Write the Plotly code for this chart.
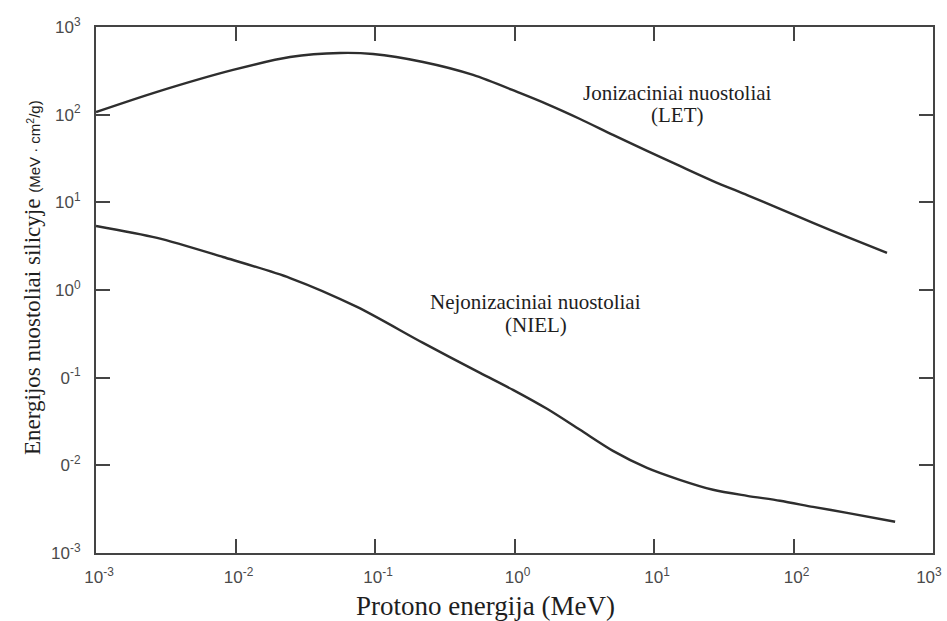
import plotly.graph_objects as go

# Proton energy (MeV) and ionizing energy loss (LET) in silicon, MeV·cm²/g
let_energy = [0.001, 0.00274, 0.0096, 0.0246, 0.0561, 0.0968, 0.221, 0.505, 1.09, 1.71,
              2.95, 5.08, 8.91, 15.3, 26.5, 46.5, 80, 138, 242, 468]
let_loss = [107, 182, 324, 455, 506, 492, 399, 284, 177, 132,
            89.3, 58.7, 38.6, 26.0, 17.5, 12.1, 8.41, 5.82, 4.03, 2.65]

# Proton energy (MeV) and non-ionizing energy loss (NIEL) in silicon
niel_energy = [0.001, 0.00274, 0.00813, 0.0246, 0.0743, 0.221, 0.566, 0.975, 1.71, 2.95,
               5.08, 8.91, 15.3, 26.5, 46.5, 80, 138, 242, 535]
niel_loss = [5.38, 3.93, 2.38, 1.37, 0.641, 0.249, 0.1135, 0.0726, 0.0441, 0.0254,
             0.01463, 0.00936, 0.00684, 0.00526, 0.00449, 0.00394, 0.00336, 0.00287, 0.00227]

decades = [1e-3, 1e-2, 1e-1, 1e0, 1e1, 1e2, 1e3]
# the last label carries trailing no-break spaces so it stays inside the page
x_tick_text = ["10<sup>-3</sup>", "10<sup>-2</sup>", "10<sup>-1</sup>", "10<sup>0</sup>",
               "10<sup>1</sup>", "10<sup>2</sup>", "10<sup>3</sup>\u00a0\u00a0\u00a0"]
y_tick_text = ["10<sup>-3</sup>", "0<sup>-2</sup>", "0<sup>-1</sup>", "10<sup>0</sup>",
               "10<sup>1</sup>", "10<sup>2</sup>", "10<sup>3</sup>"]

line_color = "#2e2e2e"
axis_color = "#444444"
text_color = "#1e1e1e"
serif = "Liberation Serif"
sans = "Liberation Sans"

fig = go.Figure()
fig.add_trace(go.Scatter(x=let_energy, y=let_loss, mode="lines",
                         line=dict(color=line_color, width=2.4, shape="spline", smoothing=0.8)))
fig.add_trace(go.Scatter(x=niel_energy, y=niel_loss, mode="lines",
                         line=dict(color=line_color, width=2.4, shape="spline", smoothing=0.8)))

axis_common = dict(
    type="log", range=[-3, 3], tickvals=decades, automargin=False,
    ticks="inside", ticklen=14, tickwidth=1.6, tickcolor=axis_color,
    showline=True, linewidth=2, linecolor=axis_color, mirror="ticks",
    showgrid=False, zeroline=False,
    tickfont=dict(family=sans, size=17, color="#4a4a4a"),
)

fig.update_xaxes(**axis_common, ticktext=x_tick_text, ticklabelstandoff=8,
                 ticklabelshift=3, ticklabeloverflow="allow")
fig.update_yaxes(**axis_common, ticktext=y_tick_text, ticklabelstandoff=10)

# Curve labels, one annotation per line
curve_labels = [
    (1.165, 2.247, "Jonizaciniai nuostoliai"),
    (1.165, 1.997, "(LET)"),
    (0.154, -0.136, "Nejonizaciniai nuostoliai"),
    (0.154, -0.398, "(NIEL)"),
]
for lx, ly, txt in curve_labels:
    fig.add_annotation(x=lx, y=ly, xref="x", yref="y", text=txt, showarrow=False,
                       xanchor="center", yanchor="middle",
                       font=dict(family=serif, size=21, color=text_color))

# Axis titles
fig.add_annotation(x=(485 - 96) / 837, y=(553 - 606) / 526, xref="paper", yref="paper",
                   xanchor="center", yanchor="middle",
                   text="Protono energija (MeV)", showarrow=False,
                   font=dict(family=serif, size=27, color=text_color))
fig.add_annotation(x=(32 - 96) / 837, y=(553 - 278) / 526, xref="paper", yref="paper",
                   xanchor="center", yanchor="middle",
                   text="Energijos nuostoliai silicyje "
                        "<span style=\"font-family:'Liberation Sans';font-size:15px\">"
                        "(MeV · cm<sup>2</sup>/g)</span>",
                   textangle=-90, showarrow=False,
                   font=dict(family=serif, size=23, color=text_color))

fig.update_layout(
    width=947, height=621,
    margin=dict(l=96, r=14, t=27, b=68, autoexpand=False),
    paper_bgcolor="white", plot_bgcolor="white",
    showlegend=False,
)

fig.write_html("out.html")
